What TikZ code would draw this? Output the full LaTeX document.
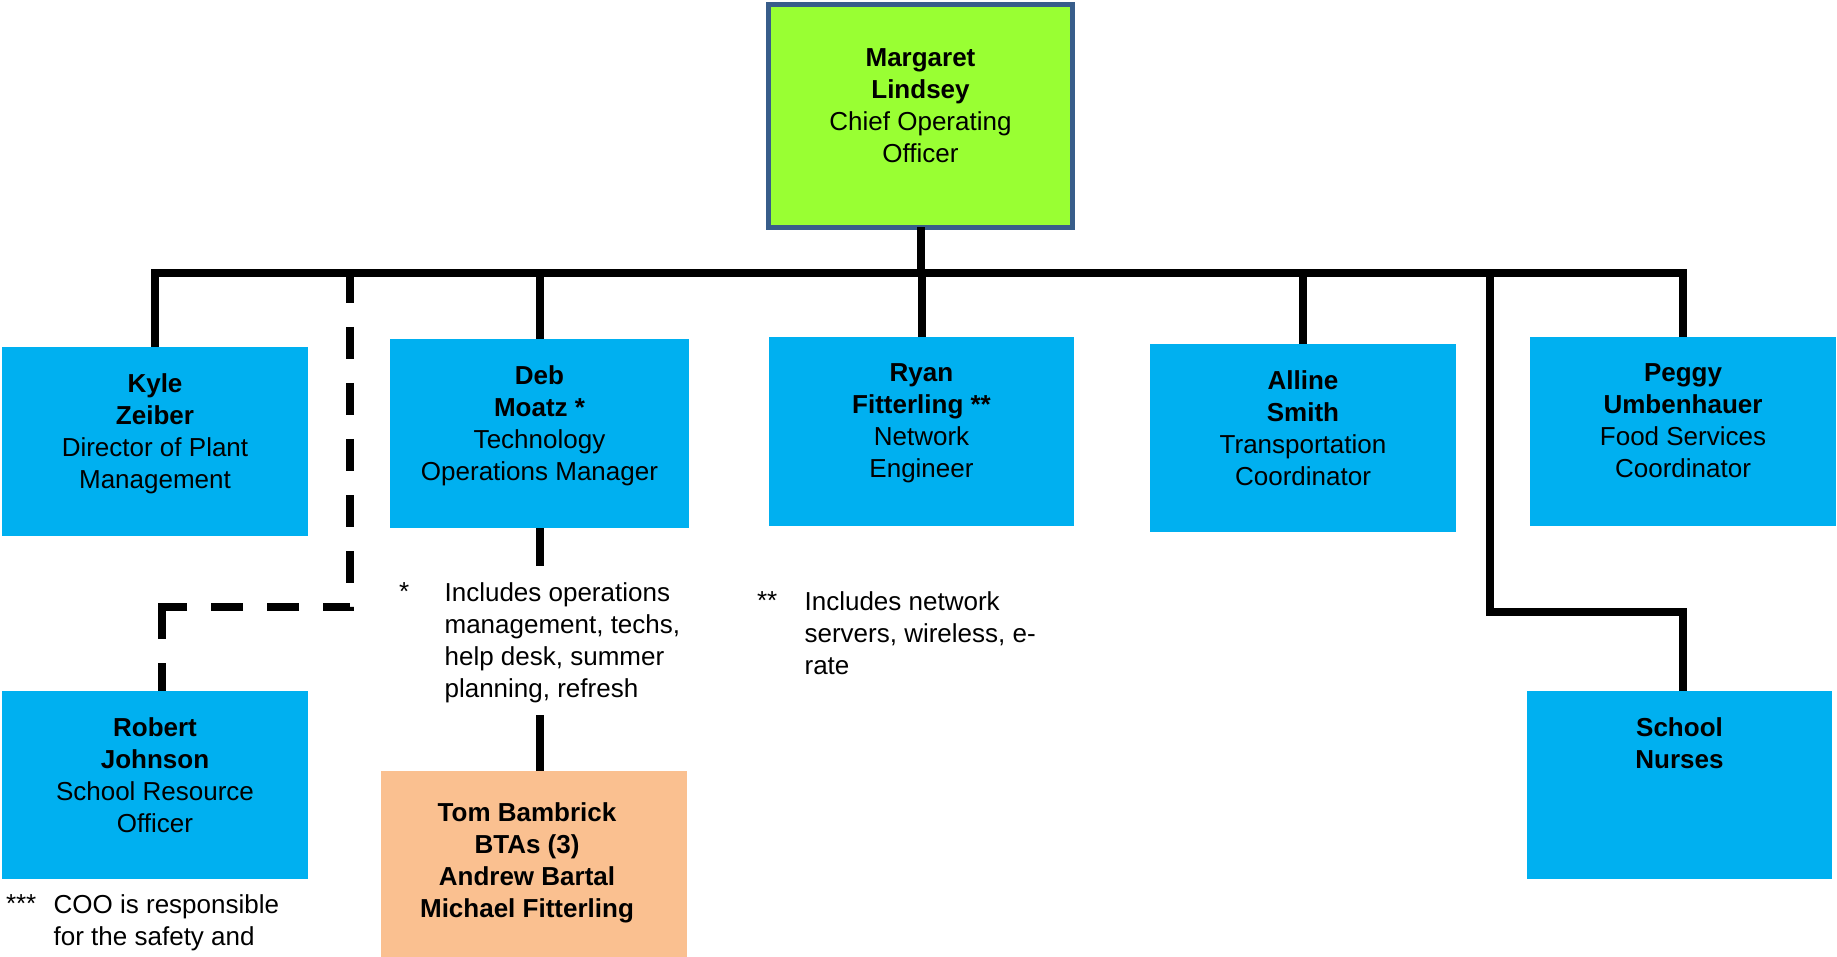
\documentclass[tikz,border=0pt]{standalone}
\usepackage{fontspec}
\setmainfont{Liberation Sans}
\definecolor{cooGreen}{HTML}{99FF33}
\definecolor{cooBorder}{HTML}{385D8A}
\definecolor{staffBlue}{HTML}{00B0F0}
\definecolor{btaPeach}{HTML}{FAC090}
\begin{document}
\begin{tikzpicture}[x=1pt,y=-1pt,
  box/.style={rectangle, inner sep=0pt, outer sep=0pt},
  bluebox/.style={box, fill=staffBlue},
  lbl/.style={inner sep=0pt, outer sep=0pt, align=center, font=\fontsize{26}{32}\selectfont, anchor=north},
  note/.style={inner sep=0pt, outer sep=0pt, align=left, font=\fontsize{26}{32}\selectfont, anchor=north west},
  conn/.style={line width=8pt, black, line join=miter},
]
\useasboundingbox (0,0) rectangle (1837,957);

% boxes
\node[box, fill=cooGreen, draw=cooBorder, line width=4.5pt, minimum width=304pt, minimum height=223pt] (coo) at (920.5,116) {};
\node[bluebox, minimum width=306pt, minimum height=189pt] (kyle) at (155,441.5) {};
\node[bluebox, minimum width=299pt, minimum height=189pt] (deb) at (539.5,433.5) {};
\node[bluebox, minimum width=305pt, minimum height=189pt] (ryan) at (921.5,431.5) {};
\node[bluebox, minimum width=306pt, minimum height=188pt] (alline) at (1303,438) {};
\node[bluebox, minimum width=306pt, minimum height=189pt] (peggy) at (1683,431.5) {};
\node[bluebox, minimum width=306pt, minimum height=188pt] (robert) at (155,785) {};
\node[bluebox, minimum width=305pt, minimum height=188pt] (nurses) at (1679.5,785) {};
\node[box, fill=btaPeach, minimum width=306pt, minimum height=189pt] (tom) at (534,865.5) {};

% labels
\node[lbl] (cooT) at ([yshift=-44pt]coo.north) {\textbf{Margaret}\\\textbf{Lindsey}\\Chief Operating\\Officer};
\node[lbl] (kyleT) at ([yshift=-27pt]kyle.north) {\textbf{Kyle}\\\textbf{Zeiber}\\Director of Plant\\Management};
\node[lbl] (debT) at ([yshift=-27pt]deb.north) {\textbf{Deb}\\\textbf{Moatz *}\\Technology\\Operations Manager};
\node[lbl] (ryanT) at ([yshift=-27pt]ryan.north) {\textbf{Ryan}\\\textbf{Fitterling **}\\Network\\Engineer};
\node[lbl] (allineT) at ([yshift=-27pt]alline.north) {\textbf{Alline}\\\textbf{Smith}\\Transportation\\Coordinator};
\node[lbl] (peggyT) at ([yshift=-27pt]peggy.north) {\textbf{Peggy}\\\textbf{Umbenhauer}\\Food Services\\Coordinator};
\node[lbl] (robertT) at ([yshift=-27pt]robert.north) {\textbf{Robert}\\\textbf{Johnson}\\School Resource\\Officer};
\node[lbl] (nursesT) at ([yshift=-27pt]nurses.north) {\textbf{School}\\\textbf{Nurses}};
\node[lbl] (tomT) at ([xshift=-7pt,yshift=-32pt]tom.north) {\textbf{Tom Bambrick}\\\textbf{BTAs (3)}\\\textbf{Andrew Bartal}\\\textbf{Michael Fitterling}};

% notes
\node[note] (n1star) at (399,583) {*};
\node[note] (n1) at (444.6,583) {Includes operations\\management, techs,\\help desk, summer\\planning, refresh};
\node[note] (n2star) at (757,592) {**};
\node[note] (n2) at (804.6,592) {Includes network\\servers, wireless, e-\\rate};
\node[note] (n3star) at (6,895) {***};
\node[note] (n3) at (53.7,895) {COO is responsible\\for the safety and};

% coordinates
\coordinate (busL) at (155,273);
\coordinate (busR) at (1683,273);
\coordinate (nurseTop) at (1490,273);
\coordinate (nurseMid) at (1490,612);
\coordinate (debA) at (539.5,566);
\coordinate (debB) at (539.5,715);
\coordinate (dashTop) at (350,273);
\coordinate (dashCorner) at (350,607);
\coordinate (dashLeft) at (161.5,607);

% connectors
\draw[conn] (kyle.north) -- (busL) -- (busR) -- (peggy.north);
\draw[conn] (coo.south) -- (coo.south |- busL);
\draw[conn] (deb.north) -- (deb.north |- busL);
\draw[conn] (ryan.north) -- (ryan.north |- busL);
\draw[conn] (alline.north) -- (alline.north |- busL);
\draw[conn] (nurseTop) -- (nurseMid) -| ([xshift=3.5pt]nurses.north);
\draw[conn] (deb.south) -- (debA);
\draw[conn] (debB) -- (debB |- tom.north);
\draw[conn, dash pattern=on 30pt off 24pt on 32pt off 24pt on 32pt off 24pt on 32pt off 24pt on 32pt off 24pt on 32pt off 24pt on 27pt off 24pt on 32pt off 24pt on 32pt off 24pt on 57.5pt off 24pt on 28pt off 10pt]
  (dashTop) -- (dashCorner) -- (dashLeft) -- (dashLeft |- robert.north);
\end{tikzpicture}
\end{document}
